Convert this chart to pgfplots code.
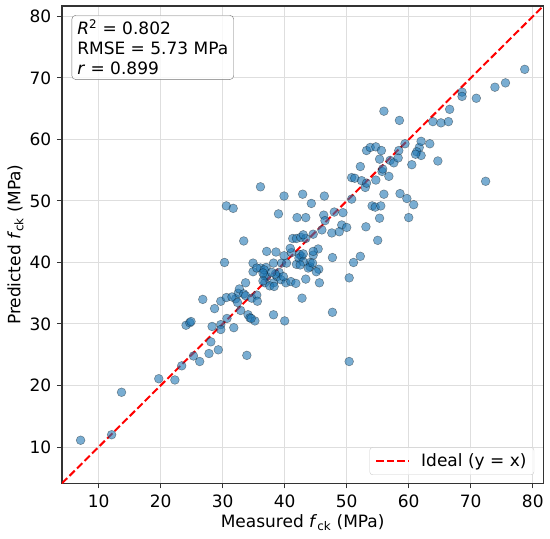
\documentclass[border=0pt]{standalone}
\usepackage{pgfplots}
\pgfplotsset{compat=1.18}
\usepackage{fontspec}
\setmainfont{DejaVu Sans}
\definecolor{tabblue}{HTML}{1F77B4}
\pgfplotstableread{
x y
7.1 11.1
12.1 12.0
13.7 18.9
19.7 21.1
22.3 20.9
23.4 23.2
25.3 24.8
26.3 23.9
27.8 25.2
29.3 25.8
28.1 27.1
24.1 29.8
24.7 30.2
24.9 30.4
28.3 29.6
29.7 29.9
29.7 29.1
28.7 32.5
26.8 34.0
29.7 33.7
31.8 29.4
30.7 30.9
30.6 34.3
30.3 40.0
32.1 34.1
32.9 32.2
32.5 35.0
32.7 35.7
33.4 34.9
33.7 34.6
31.5 34.4
32.4 33.5
34.7 34.2
33.7 36.7
34.9 39.9
34.9 38.5
34.1 31.5
34.4 31.0
35.2 30.5
34.6 30.9
35.5 34.7
35.6 33.7
33.9 24.9
33.4 43.5
30.6 49.2
31.7 48.8
36.1 39.1
37.1 41.8
38.2 39.9
38.6 41.7
37.1 37.7
36.8 36.7
38.2 36.7
38.8 37.7
39.4 37.2
40.2 36.7
41.0 36.9
41.8 36.6
38.2 31.5
40.0 30.5
36.1 52.3
39.9 50.8
39.0 47.9
37.0 39.2
36.7 37.9
39.1 38.4
39.5 39.9
40.3 39.9
36.7 38.8
38.5 38.1
37.6 36.2
36.5 37.0
39.9 41.1
37.9 38.4
39.8 37.7
38.3 36.1
35.5 39.1
36.5 38.3
41.1 41.6
42.7 41.0
42.4 41.3
44.6 41.2
45.4 42.2
41.9 39.7
44.1 39.3
45.5 38.9
43.4 37.3
45.6 36.7
42.8 34.2
41.3 43.9
41.9 43.9
42.6 44.1
43.4 43.9
43.0 44.5
44.6 44.6
42.0 47.3
43.4 47.3
42.9 51.1
44.3 49.6
40.9 42.3
42.3 40.7
44.1 40.0
43.0 40.1
42.5 39.6
43.0 41.4
44.6 41.8
45.1 38.5
43.8 39.1
44.5 39.9
46.0 45.3
47.6 44.8
49.2 46.1
50.0 45.7
48.8 45.0
46.3 47.7
48.0 48.2
49.4 48.1
46.4 50.8
47.7 40.8
47.7 31.9
46.5 46.8
50.4 37.5
51.1 40.0
52.2 41.0
50.4 23.9
53.1 45.8
55.0 43.6
55.3 47.2
54.1 49.2
54.6 49.0
55.5 49.2
50.8 50.3
50.8 53.8
51.3 53.7
52.4 53.3
53.0 52.2
53.2 52.9
54.7 53.4
52.2 55.6
55.7 54.8
56.8 54.0
55.8 55.2
53.2 58.2
53.8 58.7
54.7 58.8
55.6 58.2
55.3 56.8
56.0 51.1
56.0 64.6
58.5 63.1
59.4 59.3
57.0 56.6
57.6 56.2
58.3 57.0
58.4 58.2
58.6 51.2
59.7 50.4
60.8 49.4
60.0 47.3
60.5 55.9
61.7 58.7
61.3 58.0
62.0 57.4
61.1 57.6
62.0 59.7
63.4 59.3
64.7 56.5
63.9 62.9
65.2 62.7
66.4 62.9
66.6 64.9
68.6 67.7
68.6 67.0
70.9 66.7
73.9 68.5
75.6 69.2
78.7 71.4
72.4 53.2
}\pts
\begin{document}
\fontsize{17bp}{20bp}\selectfont
\begin{tikzpicture}
\begin{axis}[
  scale only axis, width=481.3bp, height=477.3bp,
  xmin=4.1, xmax=81.7, ymin=4.1, ymax=81.7,
  xtick={10,20,...,80}, ytick={10,20,...,80},
  tick align=outside, tick pos=left,
  major tick length=5bp,
  every tick/.style={black!80, line width=1bp},
  axis line style={black!80, line width=1.2bp},
  grid=major, grid style={black!13, line width=1bp},
  /pgf/number format/assume math mode=true,
  xticklabel style={yshift=-1bp},
  xlabel={Measured \textit{f}\textsubscript{ck} (MPa)},
  ylabel={Predicted \textit{f}\textsubscript{ck} (MPa)},
  xlabel style={at={(axis description cs:0.5,-0.083)}, anchor=center},
  ylabel style={at={(axis description cs:-0.0966,0.5)}, anchor=center},
  legend style={at={(0.981,0.0174)}, anchor=south east, draw=black!20,
    rounded corners=3bp, fill=white, fill opacity=0.8, text opacity=1,
    inner xsep=5.5bp, inner ysep=4bp, font=\fontsize{17bp}{20bp}\selectfont,
    /tikz/every odd column/.append style={column sep=9bp}},
  legend cell align=left,
  legend image code/.code={\draw[#1] (0bp,0bp) -- (33bp,0bp);},
]
\addplot[only marks, mark=*, mark size=4.4bp,
  mark options={fill=tabblue, fill opacity=0.6, draw=black, draw opacity=0.4, line width=0.5bp},
  forget plot] table {\pts};
\addplot[red, line width=2bp, dash pattern=on 7.4bp off 3.2bp] coordinates {(4.1,4.1) (81.7,81.7)};
\addlegendentry{Ideal (y = x)}
\node[anchor=north west, draw=black!55, rounded corners=4bp, fill=white, fill opacity=0.8, text opacity=1,
  align=left, inner xsep=5.5bp, inner ysep=4.5bp, font=\fontsize{17bp}{20bp}\selectfont]
  at (axis description cs:0.020,0.981)
  {\textit{R}\textsuperscript{2} = 0.802\\RMSE = 5.73 MPa\\\textit{r} = 0.899};
\end{axis}
\pgfresetboundingbox
\path[use as bounding box] ([shift={(-62bp,-55.7bp)}]current axis.south west) rectangle ([shift={(6.7bp,6bp)}]current axis.north east);
\end{tikzpicture}
\end{document}
